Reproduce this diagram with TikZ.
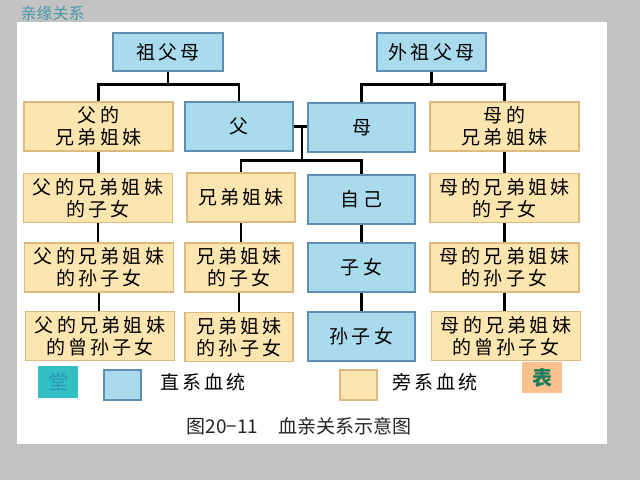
\documentclass[tikz,border=0pt]{standalone}
\usepackage{fontspec}
\usepackage{xcolor}
\usepackage{tikz}
\usetikzlibrary{calc}

\newfontfamily\boxfont{Noto Sans CJK SC}[LetterSpace=17]
\newfontfamily\capfont{Noto Sans CJK SC}

\definecolor{pagegray}{HTML}{C3C3C3}
\definecolor{bluefill}{HTML}{A9DBED}
\definecolor{blueline}{HTML}{5F8FB0}
\definecolor{yellowfill}{HTML}{FDE5AF}
\definecolor{yellowline}{HTML}{DDB97E}
\definecolor{titleteal}{HTML}{4A98A8}
\definecolor{tangfill}{HTML}{33C0C3}
\definecolor{tangtext}{HTML}{2A98B8}
\definecolor{biaofill}{HTML}{F8C18E}
\definecolor{biaotext}{HTML}{1A7A5C}

\begin{document}
\begin{tikzpicture}[
  x=1pt, y=-1pt,
  box/.style={draw, line width=1.1pt, align=center, inner sep=0pt,
              minimum height=49pt,
              font=\boxfont\fontsize{19}{22}\selectfont},
  direct/.style={box, fill=bluefill, draw=blueline},
  side/.style={box, fill=yellowfill, draw=yellowline},
  wide/.style={minimum width=149pt},
  narrow/.style={minimum width=108pt},
  swatch/.style={draw, line width=1.1pt, minimum width=37pt, minimum height=30pt},
  link/.style={line width=2.4pt, black}
]
% ---- Page and panel ----
\fill[pagegray] (0,0) rectangle (640,480);
\fill[white] (17,22) rectangle (607,444);
\node[anchor=west, text=titleteal, font=\capfont\fontsize{16}{18}\selectfont]
  (title) at (17,13) {亲缘关系};

% ---- Grandparents ----
\node[direct, minimum width=110pt, minimum height=38pt] (gp) at (168,52) {祖父母};
\node[direct, minimum width=109pt, minimum height=38pt] (mgp) at (431.5,52) {外祖父母};

% ---- Parents' generation ----
\node[side, wide]     (fsib) at (98.5,126.5) {父的\\兄弟姐妹};
\node[direct, narrow] (fa)   at (239,126.5)  {父};
\node[direct, minimum width=107pt] (mo) at (361.5,127.5) {母};
\node[side, wide]     (msib) at (504.5,126.5) {母的\\兄弟姐妹};

% ---- Own generation ----
\node[side, wide]     (fc1)  at (98,198)    {父的兄弟姐妹\\的子女};
\node[side, narrow]   (sib)  at (241,197.5) {兄弟姐妹};
\node[direct, minimum width=107pt] (self) at (361.5,199.5) {自己};
\node[side, wide]     (mc1)  at (504.5,198) {母的兄弟姐妹\\的子女};

% ---- Children ----
\node[side, wide]     (fc2)  at (99,267.5)  {父的兄弟姐妹\\的孙子女};
\node[side, narrow]   (sc1)  at (239,267.5) {兄弟姐妹\\的子女};
\node[direct, minimum width=107pt] (ch) at (361.5,267.5) {子女};
\node[side, wide]     (mc2)  at (504.5,267.5) {母的兄弟姐妹\\的孙子女};

% ---- Grandchildren ----
\node[side, wide]     (fc3)  at (100,336)   {父的兄弟姐妹\\的曾孙子女};
\node[side, narrow]   (sc2)  at (239,337)   {兄弟姐妹\\的孙子女};
\node[direct, minimum width=107pt] (gch) at (361.5,336.5) {孙子女};
\node[side, wide]     (mc3)  at (506,336)   {母的兄弟姐妹\\的曾孙子女};

% ---- Wiring ----
\coordinate (gpj)  at ($(gp.south)+(0,13)$);
\coordinate (mgpj) at ($(mgp.south)+(0,13)$);
\draw[link] (gp.south) -- (gpj);
\draw[link] (fsib.north) |- (gpj) -| (fa.north);
\draw[link] (mgp.south) -- (mgpj);
\draw[link] (mo.north) |- (mgpj) -| (msib.north);

\coordinate (pm)  at ($(fa.east)!0.6!(fa.east -| mo.west)$);
\coordinate (pmj) at ($(pm)+(0,34)$);
\draw[link] (fa.east) -- (fa.east -| mo.west);
\draw[link] (pm) -- (pmj);
\draw[link] (sib.north) |- (pmj) -| (self.north);

\foreach \a/\b in {fsib/fc1, fc1/fc2, fc2/fc3, sib/sc1, sc1/sc2,
                   self/ch, ch/gch, msib/mc1, mc1/mc2, mc2/mc3}
  \draw[link] (\a.south) -- (\a.south |- \b.north);

% ---- Legend ----
\node[fill=tangfill, minimum width=40pt, minimum height=32pt, text=tangtext,
      font=\capfont\fontsize{20}{22}\selectfont] (tang) at (58,382) {堂};
\node[swatch, fill=bluefill, draw=blueline] (keyd) at (122.5,385) {};
\node[font=\boxfont\fontsize{19}{22}\selectfont] (keydtxt) at (203,382) {直系血统};
\node[swatch, fill=yellowfill, draw=yellowline] (keys) at (358.5,385) {};
\node[font=\boxfont\fontsize{19}{22}\selectfont] (keystxt) at (435,382) {旁系血统};
\node[fill=biaofill, minimum width=40pt, minimum height=31pt, text=biaotext,
      font=\capfont\bfseries\fontsize{20}{22}\selectfont] (biao) at (542,377.5) {表};

% ---- Caption ----
\node[font=\capfont\fontsize{19}{22}\selectfont, text=black!85] (cap) at (299,426)
  {图20−11\hspace{20pt}血亲关系示意图};
\end{tikzpicture}
\end{document}
